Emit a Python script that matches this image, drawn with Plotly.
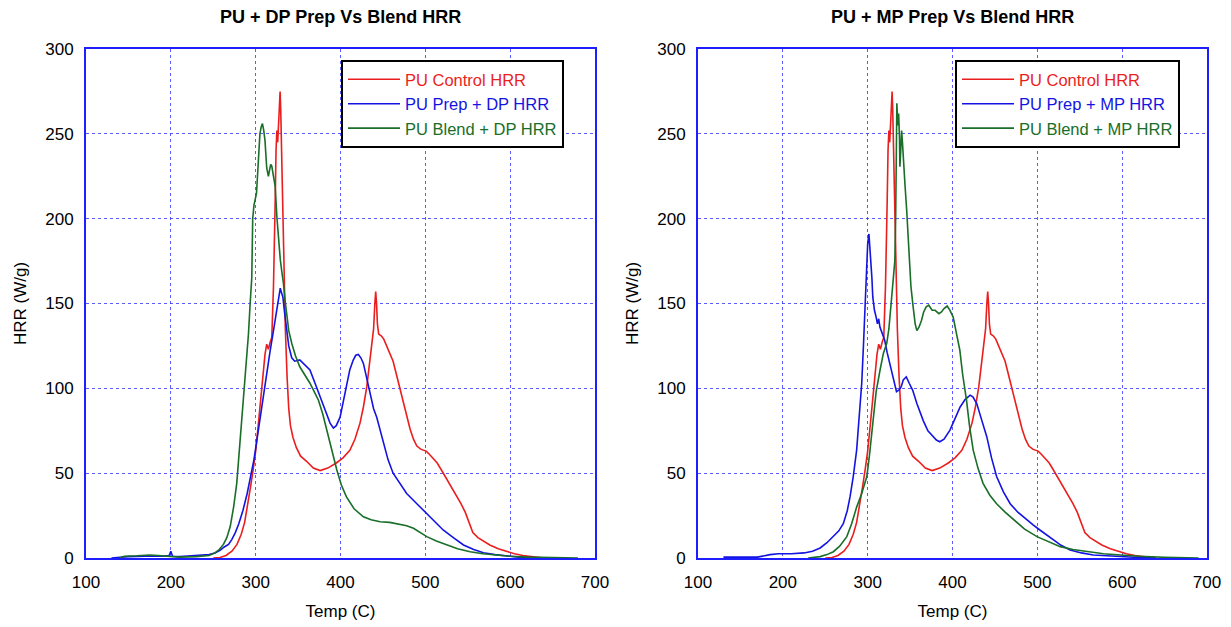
import plotly.graph_objects as go

# ---------------- data ----------------
ctrl_T = [250, 258, 265, 272, 278, 283, 287, 291, 294, 297, 300, 303, 306, 309, 311, 313, 315, 317, 319,
          321, 322, 323, 324, 325, 326, 327, 328, 328.8, 329.5, 330.5, 331.5, 333, 335, 337, 339, 341, 344,
          348, 353, 360, 368, 376, 385, 395, 403, 411, 417, 423, 427, 431, 434, 437, 439, 440.5, 441.5,
          442.5, 443.5, 445, 448, 451, 456, 462, 466, 470, 474, 478, 482, 486, 490, 495, 501, 505, 509,
          514, 520, 526, 531, 537, 542, 547, 552, 556, 562, 568, 576, 586, 596, 605, 615, 624, 633, 640]
ctrl_H = [0, 0.3, 1.5, 4, 8, 14, 21, 32, 42, 52, 63, 78, 95, 110, 120, 126, 123, 127, 130,
          160, 180, 210, 240, 252, 245, 255, 270, 275, 265, 240, 205, 175, 135, 107, 88, 78, 71,
          65, 60, 57, 53, 51.5, 53, 56, 59, 63.5, 70, 79.5, 89, 101, 113, 126, 135, 150, 157,
          150, 138, 132, 131, 129, 123, 116, 108, 100, 92, 84, 76, 70, 66, 64, 63, 61, 59,
          56, 51, 46, 42, 37, 32, 27, 20, 15, 12, 10, 7.7, 5.5, 3.7, 2.5, 1.5, 0.8, 0.2, 0]

prepDP_T = [130, 140, 150, 170, 190, 198, 200, 202, 210, 220, 235, 245, 252, 258, 263, 268, 272, 276, 280,
            285, 290, 295, 298, 301, 305, 309, 313, 317, 321, 325, 327, 329, 330, 332, 334, 336.6, 339,
            342.5, 346, 352, 358, 364, 370, 376, 382, 387.7, 391.6, 395, 399.5, 403, 407, 411, 415, 418,
            421, 424, 427, 431, 435, 439, 442.7, 446, 450.6, 456, 462, 470, 478, 490, 501.7, 511, 521,
            533, 545, 557, 568.5, 582, 596, 610, 625, 640]
prepDP_H = [0, 0.5, 0.8, 1, 1, 1.5, 4, 1, 0.8, 1.2, 1.5, 2, 3, 4.5, 6.5, 8, 11, 15, 20,
            28, 38, 50, 58, 68, 82, 97, 110, 122, 134, 146, 153, 159, 157, 154, 145, 134, 125,
            118, 116, 116.7, 114, 110.8, 103, 95, 87, 79.5, 76.6, 78, 83, 92, 103, 111, 116.7, 119.5,
            120, 118, 114.7, 106, 97, 88, 83, 77, 67.6, 58, 50, 44, 38, 32, 26, 21, 16.5,
            12, 7.7, 5, 3.1, 2, 1.2, 0.5, 0.2, 0]

blendDP_T = [140, 145, 160, 175, 185, 195, 210, 230, 245, 252, 257, 262, 266, 270, 274, 277.7, 281, 285.5,
             288, 291.5, 293.5, 295.4, 296.5, 298, 301, 303, 305, 306.5, 308, 309.5, 311, 313, 315, 317.7,
             319, 321, 323, 325, 327, 329, 331, 332.7, 334.6, 336.6, 339, 342.5, 347, 352, 358, 364, 369,
             374, 379, 383.7, 389, 395.6, 401, 407, 416, 427, 436, 446.7, 458, 470, 478, 486, 494, 501.7,
             513, 525, 538, 552.8, 568, 584, 600, 620, 650, 680]
blendDP_H = [0, 1, 1.3, 1.8, 1.5, 1, 0.5, 0.8, 1.5, 3, 5, 8, 12, 18.5, 30, 44, 65, 93,
             112, 132, 150, 165, 200, 208, 215, 230, 250, 254, 256, 252, 246, 230, 225, 232,
             231, 225, 219, 201, 186, 176, 168, 162, 152, 142, 134, 126.6, 119, 112.7, 108, 103, 98,
             93, 85, 75.4, 64, 52, 43, 36, 29, 24.3, 22.5, 21.4, 21, 20, 19, 17.5, 15, 12.6,
             10, 7.7, 5.5, 3.7, 2.5, 1.8, 1, 0.5, 0.2, 0]

prepMP_T = [130, 140, 150, 170, 185, 195, 210, 225, 235, 244, 252, 259.6, 266, 271.4, 276, 279.2, 283, 287,
            290, 293, 295, 297, 298.6, 300, 301.5, 303, 304, 305, 306, 308, 310, 311.5, 313, 314.5, 316,
            320, 323, 326, 330, 334, 337, 339.6, 342, 345.5, 349, 353, 358, 365.5, 371, 377, 381, 385,
            390, 397, 403, 409, 415, 420.8, 424, 428.6, 434, 440.4, 446, 452, 460, 468, 477, 487.6, 495,
            503, 511, 519, 528, 538.7, 552, 566, 583, 600, 620, 640]
prepMP_H = [0.5, 0.5, 0.3, 0.5, 2, 2.5, 2.5, 3, 4, 5.9, 9, 12.6, 16, 20.4, 28, 36, 48, 63.6,
            82, 103, 125, 152, 175, 185, 191, 182, 175.6, 165, 154, 146, 142, 138, 141, 136, 134,
            128.5, 121, 114.7, 105, 98, 99, 101, 105, 106.8, 103, 99, 91, 81, 75, 71.5, 69.5, 68.5,
            70, 75.4, 82, 89, 93.5, 96, 95, 91, 82, 71.5, 59, 48, 39, 32, 27, 22.4, 19.5,
            16.5, 13.5, 10.6, 7.5, 4.7, 3, 1.8, 1.2, 0.8, 0.3, 0]

blendMP_T = [230, 244, 252, 259.6, 267, 275.4, 281, 287, 293, 299, 302, 304, 306.6, 310, 314.6, 318.5, 322.5,
             325, 328, 330, 332, 333, 334.4, 335.5, 336.5, 337.5, 338, 339, 340, 341, 342, 344, 346, 348,
             350, 351, 353.6, 356, 358, 360.5, 363.4, 366, 369, 372, 376, 379.5, 384, 387, 390, 393.7, 397,
             400.8, 404, 408.6, 412, 416.5, 420, 424.4, 430, 436, 444, 452, 462, 472, 485, 499.6, 513, 527,
             542, 558.6, 578, 598, 620, 650, 690]
blendMP_H = [0, 0.8, 2, 3.7, 7, 12.6, 20, 30, 38, 48, 60, 70, 83, 98, 110.8, 120.6, 126.5,
             135, 152, 165, 175, 200, 268, 255, 262, 248, 230.6, 240, 252, 245, 234.5, 220, 205, 188,
             167.8, 160, 148, 138, 134, 136, 140, 145, 148, 149, 146, 146, 144, 145, 147, 148.5, 146,
             142, 134, 122.6, 108, 93, 78, 63.6, 53, 44, 37, 32, 27, 22.4, 17, 12.6, 9.5, 6.7,
             5, 3.7, 2.5, 1.8, 1, 0.4, 0]

x_ticks = [100, 200, 300, 400, 500, 600, 700]
y_ticks = [0, 50, 100, 150, 200, 250, 300]

titles = ["PU + DP Prep Vs Blend HRR", "PU + MP Prep Vs Blend HRR"]
names_left = ["PU Control HRR", "PU Prep + DP HRR", "PU Blend + DP HRR"]
names_right = ["PU Control HRR", "PU Prep + MP HRR", "PU Blend + MP HRR"]

# ---------------- style ----------------
RED = "rgb(235,30,30)"
BLUE = "rgb(20,20,225)"
GREEN = "rgb(25,110,40)"
FONT = "Arial, Liberation Sans, sans-serif"
W, H = 1231, 627
MT, MB = 49, 69
PH = H - MT - MB


def py(px):
    """pixel row -> paper y (paper spans the plotting area)."""
    return 1 - (px - MT) / PH


fig = go.Figure()

series_left = [(ctrl_T, ctrl_H, RED), (prepDP_T, prepDP_H, BLUE), (blendDP_T, blendDP_H, GREEN)]
series_right = [(ctrl_T, ctrl_H, RED), (prepMP_T, prepMP_H, BLUE), (blendMP_T, blendMP_H, GREEN)]

for (xs, ys, col), nm in zip(series_left, names_left):
    fig.add_trace(go.Scatter(x=xs, y=ys, mode="lines", line=dict(color=col, width=1.6),
                             name=f"<span style='color:{col}'>{nm}</span>",
                             xaxis="x", yaxis="y", legend="legend"))
for (xs, ys, col), nm in zip(series_right, names_right):
    fig.add_trace(go.Scatter(x=xs, y=ys, mode="lines", line=dict(color=col, width=1.6),
                             name=f"<span style='color:{col}'>{nm}</span>",
                             xaxis="x2", yaxis="y2", legend="legend2"))

axis_common = dict(showline=True, linecolor="rgb(30,30,255)", linewidth=2, mirror=True,
                   showgrid=True, gridcolor="rgba(50,50,255,0.8)", griddash="dot", gridwidth=1,
                   zeroline=False, ticks="", automargin=False,
                   tickfont=dict(family=FONT, size=17, color="black"),
                   title_font=dict(family=FONT, size=17, color="black"))

xdom1 = [86 / W, 595 / W]
xdom2 = [698 / W, 1207 / W]
ydom = [0, 1]

legend_common = dict(xref="paper", yref="paper", xanchor="left", yanchor="top",
                     bordercolor="black", borderwidth=2, bgcolor="white",
                     font=dict(family=FONT, size=16.5), tracegroupgap=0, itemwidth=52)

fig.update_layout(
    width=W, height=H,
    margin=dict(l=0, r=0, t=MT, b=MB),
    paper_bgcolor="white", plot_bgcolor="white",
    font=dict(family=FONT, size=17, color="black"),
    xaxis=dict(domain=xdom1, range=[100, 700], tickvals=x_ticks, anchor="y",
               title=dict(text="Temp (C)", standoff=14), ticklabelstandoff=8, **axis_common),
    yaxis=dict(domain=ydom, range=[0, 300], tickvals=y_ticks, anchor="x",
               title=dict(text="HRR (W/g)", standoff=14), ticklabelstandoff=7, **axis_common),
    xaxis2=dict(domain=xdom2, range=[100, 700], tickvals=x_ticks, anchor="y2",
                title=dict(text="Temp (C)", standoff=14), ticklabelstandoff=8, **axis_common),
    yaxis2=dict(domain=ydom, range=[0, 300], tickvals=y_ticks, anchor="x2",
                title=dict(text="HRR (W/g)", standoff=14), ticklabelstandoff=7, **axis_common),
    legend=dict(x=341 / W, y=py(60), **legend_common),
    legend2=dict(x=955 / W, y=py(60), **legend_common),
    annotations=[
        dict(text=f"<b>{titles[0]}</b>", x=(xdom1[0] + xdom1[1]) / 2, y=py(17), xref="paper", yref="paper",
             showarrow=False, xanchor="center", yanchor="middle", font=dict(family=FONT, size=18, color="black")),
        dict(text=f"<b>{titles[1]}</b>", x=(xdom2[0] + xdom2[1]) / 2, y=py(17), xref="paper", yref="paper",
             showarrow=False, xanchor="center", yanchor="middle", font=dict(family=FONT, size=18, color="black")),
    ],
)

fig.write_html("out.html")
